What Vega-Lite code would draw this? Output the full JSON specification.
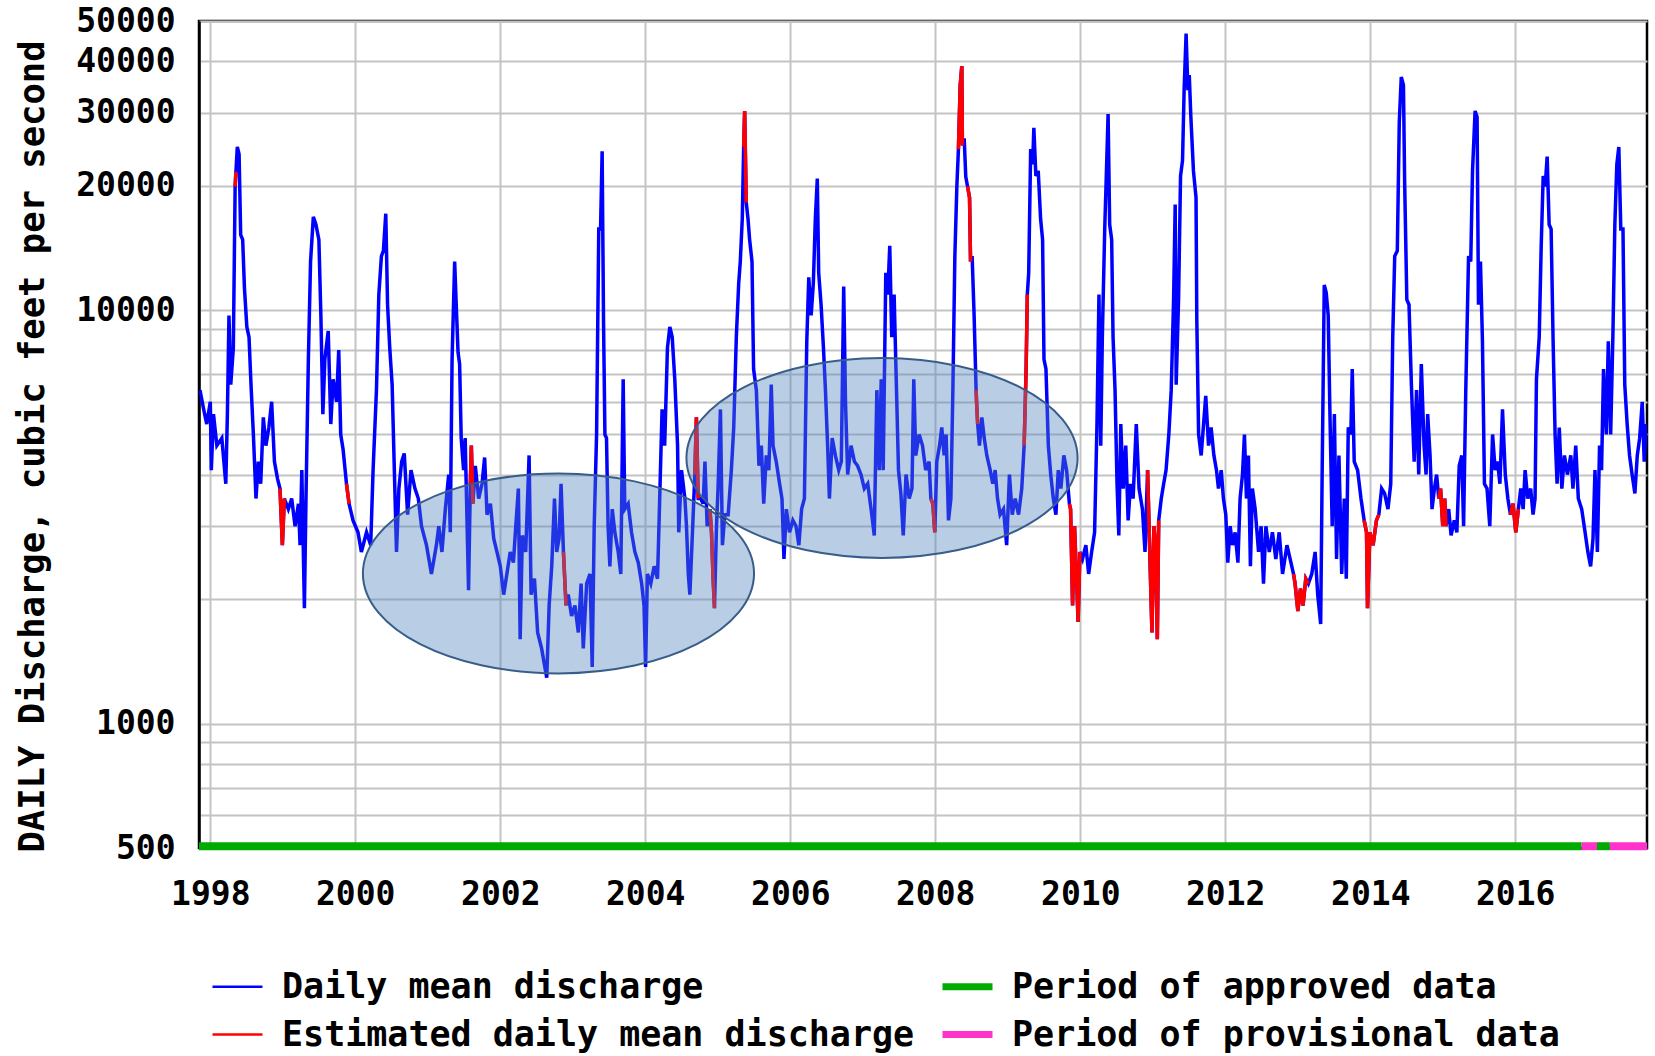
{
  "$schema": "https://vega.github.io/schema/vega-lite/v6.json",
  "width": 1448,
  "height": 827,
  "autosize": {"type": "none"},
  "padding": {"left": 199, "top": 21, "right": 8, "bottom": 208},
  "background": "white",
  "config": {
    "font": "DejaVu Sans Mono",
    "view": {"stroke": "black", "strokeWidth": 2.5},
    "axis": {"labelColor": "black", "domainColor": "black", "domainWidth": 2.5, "gridColor": "#c4c4c4", "gridWidth": 2, "ticks": false, "labelFontWeight": "bold", "labelFontSize": 33, "labelFont": "DejaVu Sans Mono"},
    "legend": {"padding": 0, "labelColor": "black", "labelFont": "DejaVu Sans Mono", "labelFontWeight": "bold", "labelFontSize": 35, "labelLimit": 1000}
  },
  "datasets": {
    "q": [
      {"d":"1997-11-10","v":6400},{"d":"1997-11-27","v":5800},{"d":"1997-12-14","v":5300},{"d":"1998-01-01","v":6000},{"d":"1998-01-06","v":4100},{"d":"1998-01-17","v":5600},{"d":"1998-02-03","v":4700},{"d":"1998-02-28","v":4900},{"d":"1998-03-20","v":3800},{"d":"1998-03-28","v":5600},{"d":"1998-04-05","v":9700},{"d":"1998-04-14","v":6600},{"d":"1998-04-27","v":8100},{"d":"1998-05-06","v":19900},{"d":"1998-05-17","v":24800},{"d":"1998-05-26","v":23800},{"d":"1998-06-03","v":15200},{"d":"1998-06-13","v":14800},{"d":"1998-06-22","v":11300},{"d":"1998-07-04","v":9100},{"d":"1998-07-15","v":8600},{"d":"1998-07-25","v":6600},{"d":"1998-08-06","v":5000},{"d":"1998-08-19","v":3500},{"d":"1998-08-31","v":4300},{"d":"1998-09-12","v":3800},{"d":"1998-09-25","v":5500},{"d":"1998-10-08","v":4700},{"d":"1998-10-23","v":5200},{"d":"1998-11-06","v":6000},{"d":"1998-11-20","v":4300},{"d":"1998-12-06","v":3900},{"d":"1998-12-18","v":3700},{"d":"1998-12-30","v":2700},
      {"d":"1999-01-09","v":3500},{"d":"1999-01-29","v":3300},{"d":"1999-02-15","v":3500},{"d":"1999-03-04","v":3000},{"d":"1999-03-21","v":3400},{"d":"1999-03-29","v":2700},{"d":"1999-04-07","v":4100},{"d":"1999-04-20","v":1900},{"d":"1999-04-28","v":3500},{"d":"1999-05-10","v":7600},{"d":"1999-05-21","v":13100},{"d":"1999-06-04","v":16800},{"d":"1999-06-17","v":16100},{"d":"1999-07-02","v":14800},{"d":"1999-07-12","v":9700},{"d":"1999-07-22","v":5600},{"d":"1999-08-01","v":7600},{"d":"1999-08-18","v":8900},{"d":"1999-08-31","v":5300},{"d":"1999-09-12","v":6800},{"d":"1999-09-29","v":6000},{"d":"1999-10-10","v":8000},{"d":"1999-10-20","v":5000},{"d":"1999-11-01","v":4600},{"d":"1999-11-18","v":3800},{"d":"1999-12-01","v":3400},{"d":"1999-12-21","v":3100},
      {"d":"2000-01-15","v":2900},{"d":"2000-02-01","v":2600},{"d":"2000-02-27","v":2900},{"d":"2000-03-19","v":2700},{"d":"2000-03-31","v":4100},{"d":"2000-04-17","v":6400},{"d":"2000-04-29","v":10900},{"d":"2000-05-12","v":13500},{"d":"2000-05-22","v":13900},{"d":"2000-06-03","v":17100},{"d":"2000-06-12","v":10300},{"d":"2000-06-23","v":8100},{"d":"2000-07-05","v":6600},{"d":"2000-07-15","v":4300},{"d":"2000-07-27","v":2600},{"d":"2000-08-08","v":3700},{"d":"2000-08-22","v":4300},{"d":"2000-09-04","v":4500},{"d":"2000-09-21","v":3200},{"d":"2000-10-08","v":4100},{"d":"2000-10-28","v":3700},{"d":"2000-11-14","v":3500},{"d":"2000-11-30","v":3000},{"d":"2000-12-25","v":2700},
      {"d":"2001-01-19","v":2300},{"d":"2001-02-13","v":2700},{"d":"2001-02-25","v":3000},{"d":"2001-03-13","v":2600},{"d":"2001-03-30","v":3300},{"d":"2001-04-16","v":4000},{"d":"2001-04-24","v":2900},{"d":"2001-05-03","v":7600},{"d":"2001-05-16","v":13100},{"d":"2001-05-24","v":10300},{"d":"2001-06-02","v":7900},{"d":"2001-06-10","v":7400},{"d":"2001-06-18","v":4900},{"d":"2001-06-30","v":4100},{"d":"2001-07-08","v":4900},{"d":"2001-07-25","v":2100},{"d":"2001-08-03","v":3800},{"d":"2001-08-08","v":4700},{"d":"2001-08-16","v":3400},{"d":"2001-08-28","v":4200},{"d":"2001-09-14","v":3500},{"d":"2001-10-01","v":3800},{"d":"2001-10-14","v":4400},{"d":"2001-10-26","v":3200},{"d":"2001-11-12","v":3400},{"d":"2001-11-29","v":2800},{"d":"2001-12-15","v":2600},
      {"d":"2002-01-01","v":2400},{"d":"2002-01-18","v":2050},{"d":"2002-02-03","v":2300},{"d":"2002-02-20","v":2600},{"d":"2002-03-08","v":2450},{"d":"2002-03-20","v":3000},{"d":"2002-04-02","v":3700},{"d":"2002-04-11","v":1600},{"d":"2002-04-22","v":2850},{"d":"2002-05-09","v":2600},{"d":"2002-05-26","v":4450},{"d":"2002-06-05","v":2050},{"d":"2002-06-22","v":2240},{"d":"2002-07-08","v":1660},{"d":"2002-07-28","v":1520},{"d":"2002-08-11","v":1390},{"d":"2002-08-23","v":1290},{"d":"2002-09-04","v":1930},{"d":"2002-09-17","v":2400},{"d":"2002-10-01","v":3500},{"d":"2002-10-12","v":2600},{"d":"2002-10-24","v":2800},{"d":"2002-11-03","v":3800},{"d":"2002-11-15","v":2600},{"d":"2002-11-28","v":1930},{"d":"2002-12-09","v":2050},{"d":"2002-12-26","v":1820},
      {"d":"2003-01-12","v":1930},{"d":"2003-01-29","v":1660},{"d":"2003-02-12","v":2180},{"d":"2003-02-23","v":1520},{"d":"2003-03-12","v":2180},{"d":"2003-03-29","v":2300},{"d":"2003-04-09","v":1370},{"d":"2003-04-19","v":3000},{"d":"2003-05-01","v":5000},{"d":"2003-05-12","v":15700},{"d":"2003-05-21","v":15700},{"d":"2003-05-29","v":24200},{"d":"2003-06-05","v":9400},{"d":"2003-06-12","v":5000},{"d":"2003-06-20","v":4900},{"d":"2003-06-28","v":3000},{"d":"2003-07-07","v":2400},{"d":"2003-07-19","v":3300},{"d":"2003-08-01","v":2900},{"d":"2003-08-18","v":2600},{"d":"2003-08-31","v":2300},{"d":"2003-09-12","v":6800},{"d":"2003-09-20","v":3300},{"d":"2003-10-07","v":3400},{"d":"2003-10-24","v":2900},{"d":"2003-11-10","v":2600},{"d":"2003-11-27","v":2450},{"d":"2003-12-14","v":2180},{"d":"2003-12-26","v":1930},
      {"d":"2004-01-03","v":1370},{"d":"2004-01-12","v":2300},{"d":"2004-01-29","v":2180},{"d":"2004-02-15","v":2400},{"d":"2004-03-03","v":2240},{"d":"2004-03-14","v":3500},{"d":"2004-03-26","v":5750},{"d":"2004-04-08","v":4700},{"d":"2004-04-22","v":8100},{"d":"2004-05-04","v":9100},{"d":"2004-05-16","v":8600},{"d":"2004-05-29","v":6800},{"d":"2004-06-12","v":4700},{"d":"2004-06-18","v":2900},{"d":"2004-07-02","v":4100},{"d":"2004-07-19","v":3500},{"d":"2004-07-27","v":3000},{"d":"2004-08-05","v":2300},{"d":"2004-08-13","v":2050},{"d":"2004-08-26","v":2900},{"d":"2004-09-07","v":4000},{"d":"2004-09-15","v":5500},{"d":"2004-09-24","v":3500},{"d":"2004-10-06","v":3500},{"d":"2004-10-19","v":3400},{"d":"2004-10-28","v":4300},{"d":"2004-11-08","v":3000},{"d":"2004-11-22","v":3300},{"d":"2004-11-30","v":2900},{"d":"2004-12-08","v":2240},{"d":"2004-12-15","v":1900},{"d":"2004-12-25","v":3000},
      {"d":"2005-01-02","v":3700},{"d":"2005-01-14","v":5750},{"d":"2005-01-24","v":2700},{"d":"2005-02-05","v":3200},{"d":"2005-02-22","v":3200},{"d":"2005-03-10","v":4100},{"d":"2005-03-22","v":5200},{"d":"2005-04-04","v":8600},{"d":"2005-04-16","v":11600},{"d":"2005-04-24","v":13100},{"d":"2005-05-04","v":16600},{"d":"2005-05-11","v":24800},{"d":"2005-05-16","v":30300},{"d":"2005-05-24","v":18200},{"d":"2005-06-02","v":16600},{"d":"2005-06-10","v":14800},{"d":"2005-06-22","v":13100},{"d":"2005-06-30","v":7200},{"d":"2005-07-14","v":6400},{"d":"2005-07-27","v":4200},{"d":"2005-08-08","v":4700},{"d":"2005-08-20","v":3400},{"d":"2005-09-02","v":4450},{"d":"2005-09-15","v":4100},{"d":"2005-09-27","v":6600},{"d":"2005-10-06","v":4700},{"d":"2005-10-22","v":4300},{"d":"2005-11-08","v":3800},{"d":"2005-11-20","v":3500},{"d":"2005-11-30","v":2500},{"d":"2005-12-12","v":3300},{"d":"2005-12-28","v":2900},
      {"d":"2006-01-14","v":3100},{"d":"2006-01-30","v":3000},{"d":"2006-02-13","v":2700},{"d":"2006-02-27","v":3300},{"d":"2006-03-13","v":3500},{"d":"2006-03-25","v":8400},{"d":"2006-04-04","v":12000},{"d":"2006-04-16","v":9700},{"d":"2006-04-27","v":11600},{"d":"2006-05-07","v":16600},{"d":"2006-05-17","v":20800},{"d":"2006-05-24","v":12300},{"d":"2006-06-05","v":10300},{"d":"2006-06-17","v":8100},{"d":"2006-06-27","v":6400},{"d":"2006-07-08","v":4700},{"d":"2006-07-17","v":3500},{"d":"2006-07-31","v":4900},{"d":"2006-08-16","v":4450},{"d":"2006-09-02","v":4100},{"d":"2006-09-15","v":4300},{"d":"2006-09-27","v":11400},{"d":"2006-10-06","v":6000},{"d":"2006-10-17","v":4000},{"d":"2006-11-03","v":4700},{"d":"2006-11-20","v":4300},{"d":"2006-12-06","v":4200},{"d":"2006-12-23","v":4000},
      {"d":"2007-01-09","v":3700},{"d":"2007-01-26","v":3800},{"d":"2007-02-12","v":3300},{"d":"2007-02-28","v":2850},{"d":"2007-03-13","v":6400},{"d":"2007-03-25","v":4100},{"d":"2007-04-04","v":6800},{"d":"2007-04-14","v":4100},{"d":"2007-04-27","v":12300},{"d":"2007-05-07","v":10900},{"d":"2007-05-17","v":14300},{"d":"2007-05-27","v":8600},{"d":"2007-06-08","v":10900},{"d":"2007-06-20","v":6400},{"d":"2007-06-30","v":4100},{"d":"2007-07-12","v":3600},{"d":"2007-07-24","v":2850},{"d":"2007-08-07","v":4000},{"d":"2007-08-23","v":3500},{"d":"2007-09-06","v":3700},{"d":"2007-09-15","v":6800},{"d":"2007-09-25","v":4450},{"d":"2007-10-12","v":5000},{"d":"2007-10-29","v":4700},{"d":"2007-11-14","v":4100},{"d":"2007-12-01","v":4300},{"d":"2007-12-10","v":3500},{"d":"2007-12-20","v":3400},{"d":"2007-12-30","v":2900},
      {"d":"2008-01-09","v":4300},{"d":"2008-01-23","v":4700},{"d":"2008-02-03","v":5200},{"d":"2008-02-15","v":4450},{"d":"2008-02-25","v":5000},{"d":"2008-03-08","v":3100},{"d":"2008-03-20","v":3500},{"d":"2008-03-30","v":6400},{"d":"2008-04-09","v":13500},{"d":"2008-04-19","v":19900},{"d":"2008-04-27","v":24500},{"d":"2008-05-06","v":35000},{"d":"2008-05-14","v":38900},{"d":"2008-05-17","v":25000},{"d":"2008-05-26","v":26000},{"d":"2008-06-03","v":21000},{"d":"2008-06-12","v":19900},{"d":"2008-06-22","v":18700},{"d":"2008-06-27","v":13100},{"d":"2008-07-05","v":13500},{"d":"2008-07-15","v":9700},{"d":"2008-07-25","v":6400},{"d":"2008-07-28","v":5900},{"d":"2008-08-02","v":5300},{"d":"2008-08-11","v":4700},{"d":"2008-08-23","v":5500},{"d":"2008-09-04","v":4900},{"d":"2008-09-17","v":4450},{"d":"2008-10-04","v":4100},{"d":"2008-10-17","v":3800},{"d":"2008-10-29","v":4100},{"d":"2008-11-10","v":3500},{"d":"2008-11-23","v":3200},{"d":"2008-12-10","v":3300},{"d":"2008-12-26","v":2700},
      {"d":"2009-01-09","v":4000},{"d":"2009-01-23","v":3200},{"d":"2009-02-07","v":3500},{"d":"2009-02-24","v":3200},{"d":"2009-03-12","v":3700},{"d":"2009-03-24","v":4700},{"d":"2009-04-03","v":7200},{"d":"2009-04-09","v":10900},{"d":"2009-04-16","v":12300},{"d":"2009-04-26","v":24500},{"d":"2009-05-06","v":22500},{"d":"2009-05-12","v":27600},{"d":"2009-05-22","v":21100},{"d":"2009-06-03","v":21700},{"d":"2009-06-15","v":16600},{"d":"2009-06-25","v":14800},{"d":"2009-07-02","v":7600},{"d":"2009-07-12","v":7200},{"d":"2009-07-24","v":4700},{"d":"2009-08-05","v":4000},{"d":"2009-08-18","v":3500},{"d":"2009-08-31","v":3200},{"d":"2009-09-12","v":4100},{"d":"2009-09-25","v":3700},{"d":"2009-10-10","v":4450},{"d":"2009-10-24","v":4100},{"d":"2009-11-07","v":3400},{"d":"2009-11-13","v":3300},{"d":"2009-11-23","v":1930},{"d":"2009-12-03","v":3000},{"d":"2009-12-13","v":2240},{"d":"2009-12-21","v":1760},{"d":"2009-12-30","v":2600},
      {"d":"2010-01-12","v":2500},{"d":"2010-01-29","v":2700},{"d":"2010-02-12","v":2300},{"d":"2010-02-27","v":2600},{"d":"2010-03-14","v":2900},{"d":"2010-03-26","v":5300},{"d":"2010-04-05","v":10900},{"d":"2010-04-14","v":4700},{"d":"2010-04-22","v":8600},{"d":"2010-05-04","v":15700},{"d":"2010-05-12","v":21100},{"d":"2010-05-21","v":29800},{"d":"2010-05-29","v":16100},{"d":"2010-06-08","v":14800},{"d":"2010-06-15","v":8600},{"d":"2010-06-25","v":6400},{"d":"2010-07-05","v":3800},{"d":"2010-07-14","v":2850},{"d":"2010-07-24","v":5300},{"d":"2010-08-05","v":3700},{"d":"2010-08-18","v":4700},{"d":"2010-08-30","v":3100},{"d":"2010-09-11","v":3800},{"d":"2010-09-24","v":3500},{"d":"2010-10-10","v":5300},{"d":"2010-10-24","v":3700},{"d":"2010-11-10","v":3300},{"d":"2010-11-23","v":2600},{"d":"2010-12-06","v":4100},{"d":"2010-12-16","v":2700},{"d":"2010-12-28","v":1660},
      {"d":"2011-01-07","v":3000},{"d":"2011-01-15","v":2700},{"d":"2011-01-24","v":1600},{"d":"2011-01-31","v":3100},{"d":"2011-02-13","v":3500},{"d":"2011-02-25","v":3800},{"d":"2011-03-09","v":4100},{"d":"2011-03-23","v":5000},{"d":"2011-04-04","v":6400},{"d":"2011-04-16","v":10600},{"d":"2011-04-24","v":18000},{"d":"2011-04-29","v":6600},{"d":"2011-05-11","v":10600},{"d":"2011-05-21","v":21100},{"d":"2011-05-31","v":23000},{"d":"2011-06-08","v":34000},{"d":"2011-06-18","v":46600},{"d":"2011-06-27","v":34000},{"d":"2011-07-04","v":37000},{"d":"2011-07-12","v":29300},{"d":"2011-07-25","v":21700},{"d":"2011-08-07","v":18700},{"d":"2011-08-11","v":9400},{"d":"2011-08-20","v":5000},{"d":"2011-09-02","v":4450},{"d":"2011-09-14","v":5300},{"d":"2011-09-25","v":6200},{"d":"2011-10-09","v":4700},{"d":"2011-10-22","v":5200},{"d":"2011-11-05","v":4450},{"d":"2011-11-18","v":4100},{"d":"2011-11-28","v":3700},{"d":"2011-12-12","v":4100},{"d":"2011-12-23","v":3500},
      {"d":"2012-01-04","v":3200},{"d":"2012-01-14","v":2450},{"d":"2012-01-26","v":3000},{"d":"2012-02-07","v":2700},{"d":"2012-02-20","v":2900},{"d":"2012-03-05","v":2450},{"d":"2012-03-16","v":3500},{"d":"2012-03-28","v":4000},{"d":"2012-04-07","v":5000},{"d":"2012-04-17","v":3500},{"d":"2012-04-27","v":4450},{"d":"2012-05-07","v":2400},{"d":"2012-05-17","v":3700},{"d":"2012-05-31","v":3300},{"d":"2012-06-17","v":2600},{"d":"2012-06-30","v":3000},{"d":"2012-07-12","v":2180},{"d":"2012-07-24","v":3000},{"d":"2012-08-10","v":2600},{"d":"2012-08-26","v":2900},{"d":"2012-09-12","v":2500},{"d":"2012-09-29","v":2900},{"d":"2012-10-16","v":2300},{"d":"2012-11-07","v":2700},{"d":"2012-11-23","v":2500},{"d":"2012-12-10","v":2300},{"d":"2012-12-18","v":2180},
      {"d":"2013-01-01","v":1870},{"d":"2013-01-14","v":2120},{"d":"2013-01-27","v":1930},{"d":"2013-02-10","v":2240},{"d":"2013-02-23","v":2180},{"d":"2013-03-12","v":2300},{"d":"2013-03-29","v":2600},{"d":"2013-04-11","v":2050},{"d":"2013-04-26","v":1740},{"d":"2013-05-04","v":4300},{"d":"2013-05-14","v":11500},{"d":"2013-05-24","v":11000},{"d":"2013-06-03","v":9700},{"d":"2013-06-12","v":5500},{"d":"2013-06-23","v":3000},{"d":"2013-07-04","v":5600},{"d":"2013-07-15","v":2500},{"d":"2013-07-27","v":4450},{"d":"2013-08-10","v":2300},{"d":"2013-08-23","v":3500},{"d":"2013-09-02","v":2240},{"d":"2013-09-12","v":5200},{"d":"2013-09-25","v":5000},{"d":"2013-10-02","v":7200},{"d":"2013-10-12","v":4300},{"d":"2013-10-29","v":4100},{"d":"2013-11-15","v":3500},{"d":"2013-12-01","v":3100},{"d":"2013-12-13","v":2900},{"d":"2013-12-18","v":1900},{"d":"2013-12-30","v":2900},
      {"d":"2014-01-15","v":2700},{"d":"2014-02-01","v":3100},{"d":"2014-02-13","v":3200},{"d":"2014-02-27","v":3700},{"d":"2014-03-14","v":3600},{"d":"2014-03-31","v":3300},{"d":"2014-04-14","v":3800},{"d":"2014-04-24","v":8600},{"d":"2014-05-04","v":13500},{"d":"2014-05-17","v":13900},{"d":"2014-05-27","v":28500},{"d":"2014-06-06","v":36600},{"d":"2014-06-17","v":35000},{"d":"2014-06-23","v":20400},{"d":"2014-07-04","v":10600},{"d":"2014-07-15","v":10300},{"d":"2014-07-27","v":6600},{"d":"2014-08-10","v":4300},{"d":"2014-08-22","v":6400},{"d":"2014-09-02","v":4000},{"d":"2014-09-15","v":7400},{"d":"2014-09-29","v":4700},{"d":"2014-10-09","v":4000},{"d":"2014-10-17","v":5600},{"d":"2014-10-29","v":4450},{"d":"2014-11-08","v":3300},{"d":"2014-11-20","v":3700},{"d":"2014-12-01","v":4000},{"d":"2014-12-12","v":3500},{"d":"2014-12-21","v":3700},
      {"d":"2015-01-01","v":3000},{"d":"2015-01-11","v":3500},{"d":"2015-01-17","v":3000},{"d":"2015-01-31","v":3300},{"d":"2015-02-12","v":2850},{"d":"2015-02-28","v":3100},{"d":"2015-03-13","v":2900},{"d":"2015-03-25","v":4200},{"d":"2015-04-07","v":4450},{"d":"2015-04-16","v":3000},{"d":"2015-04-27","v":6400},{"d":"2015-05-11","v":13500},{"d":"2015-05-22","v":13100},{"d":"2015-05-31","v":21700},{"d":"2015-06-13","v":30300},{"d":"2015-06-23","v":29300},{"d":"2015-06-30","v":10300},{"d":"2015-07-10","v":13100},{"d":"2015-07-20","v":8400},{"d":"2015-07-30","v":3800},{"d":"2015-08-12","v":3700},{"d":"2015-08-26","v":3000},{"d":"2015-09-09","v":5000},{"d":"2015-09-22","v":4100},{"d":"2015-10-04","v":4300},{"d":"2015-10-16","v":3800},{"d":"2015-10-29","v":5750},{"d":"2015-11-12","v":4000},{"d":"2015-11-25","v":3500},{"d":"2015-12-08","v":3200},{"d":"2015-12-21","v":3400},
      {"d":"2016-01-04","v":2900},{"d":"2016-01-17","v":3300},{"d":"2016-01-29","v":3700},{"d":"2016-02-10","v":3300},{"d":"2016-02-20","v":4100},{"d":"2016-03-04","v":3500},{"d":"2016-03-19","v":3700},{"d":"2016-03-31","v":3200},{"d":"2016-04-10","v":3500},{"d":"2016-04-17","v":6800},{"d":"2016-05-01","v":8600},{"d":"2016-05-11","v":14300},{"d":"2016-05-21","v":21100},{"d":"2016-05-31","v":19900},{"d":"2016-06-10","v":23500},{"d":"2016-06-20","v":16100},{"d":"2016-06-30","v":15700},{"d":"2016-07-10","v":8400},{"d":"2016-07-20","v":5000},{"d":"2016-07-30","v":3800},{"d":"2016-08-10","v":5200},{"d":"2016-08-23","v":3700},{"d":"2016-09-05","v":4450},{"d":"2016-09-20","v":4000},{"d":"2016-10-07","v":4450},{"d":"2016-10-18","v":3700},{"d":"2016-11-01","v":4700},{"d":"2016-11-14","v":3500},{"d":"2016-12-01","v":3300},{"d":"2016-12-18","v":2900},
      {"d":"2017-01-01","v":2600},{"d":"2017-01-15","v":2400},{"d":"2017-01-27","v":2800},{"d":"2017-02-06","v":4100},{"d":"2017-02-18","v":2600},{"d":"2017-03-01","v":4700},{"d":"2017-03-11","v":4100},{"d":"2017-03-21","v":7200},{"d":"2017-04-04","v":5000},{"d":"2017-04-14","v":8400},{"d":"2017-04-26","v":5000},{"d":"2017-05-07","v":8600},{"d":"2017-05-17","v":16100},{"d":"2017-05-27","v":22500},{"d":"2017-06-06","v":24800},{"d":"2017-06-16","v":15700},{"d":"2017-06-27","v":15700},{"d":"2017-07-06","v":6600},{"d":"2017-07-18","v":5300},{"d":"2017-07-30","v":4450},{"d":"2017-08-12","v":4000},{"d":"2017-08-26","v":3600},{"d":"2017-09-07","v":4450},{"d":"2017-09-19","v":4900},{"d":"2017-10-02","v":6000},{"d":"2017-10-12","v":4300},{"d":"2017-10-22","v":5300}
    ],
    "est": [
      {"d":"1998-05-06","v":19900,"g":1},{"d":"1998-05-10","v":21600,"g":1},
      {"d":"1998-12-18","v":3700,"g":2},{"d":"1998-12-30","v":2700,"g":2},{"d":"1999-01-09","v":3500,"g":2},
      {"d":"1999-11-18","v":3800,"g":3},{"d":"1999-12-01","v":3400,"g":3},
      {"d":"2001-08-03","v":3800,"g":4},{"d":"2001-08-08","v":4700,"g":4},{"d":"2001-08-16","v":3400,"g":4},
      {"d":"2002-11-15","v":2600,"g":5},{"d":"2002-11-28","v":1930,"g":5},
      {"d":"2004-09-07","v":4000,"g":6},{"d":"2004-09-15","v":5500,"g":6},{"d":"2004-09-24","v":3500,"g":6},
      {"d":"2004-11-22","v":3300,"g":7},{"d":"2004-11-30","v":2900,"g":7},{"d":"2004-12-08","v":2240,"g":7},{"d":"2004-12-15","v":1900,"g":7},
      {"d":"2005-05-11","v":24800,"g":8},{"d":"2005-05-16","v":30300,"g":8},{"d":"2005-05-24","v":18200,"g":8},
      {"d":"2007-12-10","v":3500,"g":9},{"d":"2007-12-20","v":3400,"g":9},{"d":"2007-12-30","v":2900,"g":9},
      {"d":"2008-04-27","v":24500,"g":10},{"d":"2008-05-06","v":35000,"g":10},{"d":"2008-05-14","v":38900,"g":10},{"d":"2008-05-17","v":25000,"g":10},
      {"d":"2008-06-12","v":19900,"g":11},{"d":"2008-06-22","v":18700,"g":11},{"d":"2008-06-27","v":13100,"g":11},
      {"d":"2008-07-25","v":6400,"g":12},{"d":"2008-07-28","v":5900,"g":12},{"d":"2008-08-02","v":5300,"g":12},
      {"d":"2009-03-24","v":4700,"g":13},{"d":"2009-04-03","v":7200,"g":13},{"d":"2009-04-09","v":10900,"g":13},
      {"d":"2009-11-07","v":3400,"g":14},{"d":"2009-11-13","v":3300,"g":14},{"d":"2009-11-23","v":1930,"g":14},{"d":"2009-12-03","v":3000,"g":14},{"d":"2009-12-13","v":2240,"g":14},{"d":"2009-12-21","v":1760,"g":14},{"d":"2009-12-30","v":2600,"g":14},
      {"d":"2010-12-06","v":4100,"g":15},{"d":"2010-12-16","v":2700,"g":15},{"d":"2010-12-28","v":1660,"g":15},{"d":"2011-01-07","v":3000,"g":15},{"d":"2011-01-15","v":2700,"g":15},{"d":"2011-01-24","v":1600,"g":15},{"d":"2011-01-31","v":3100,"g":15},
      {"d":"2012-12-10","v":2300,"g":16},{"d":"2012-12-18","v":2180,"g":16},{"d":"2013-01-01","v":1870,"g":16},{"d":"2013-01-14","v":2120,"g":16},{"d":"2013-01-27","v":1930,"g":16},{"d":"2013-02-10","v":2240,"g":16},{"d":"2013-02-23","v":2180,"g":16},
      {"d":"2013-12-01","v":3100,"g":17},{"d":"2013-12-13","v":2900,"g":17},{"d":"2013-12-18","v":1900,"g":17},{"d":"2013-12-30","v":2900,"g":17},{"d":"2014-01-15","v":2700,"g":17},{"d":"2014-02-01","v":3100,"g":17},{"d":"2014-02-13","v":3200,"g":17},
      {"d":"2014-12-12","v":3500,"g":18},{"d":"2014-12-21","v":3700,"g":18},{"d":"2015-01-01","v":3000,"g":18},{"d":"2015-01-11","v":3500,"g":18},{"d":"2015-01-17","v":3000,"g":18},
      {"d":"2015-12-08","v":3200,"g":19},{"d":"2015-12-21","v":3400,"g":19},{"d":"2016-01-04","v":2900,"g":19},{"d":"2016-01-17","v":3300,"g":19}
    ],
    "period": [
      {"s":"1997-11-05","e":"2016-12-01","p":"Period of approved data"},
      {"s":"2016-12-01","e":"2017-02-16","p":"Period of provisional data"},
      {"s":"2017-02-16","e":"2017-04-22","p":"Period of approved data"},
      {"s":"2017-04-22","e":"2017-10-26","p":"Period of provisional data"}
    ],
    "ell": [
      {"d":"2002-10-21","v":2306},
      {"d":"2007-04-08","v":4387}
    ]
  },
  "layer": [
    {
      "data": {"name": "q"},
      "mark": {"type": "line", "strokeWidth": 3.5, "clip": true},
      "encoding": {
        "x": {"field": "d", "type": "temporal",
          "scale": {"domain": [{"year": 1997, "month": 11, "date": 5}, {"year": 2017, "month": 10, "date": 26}]},
          "axis": {"values": [{"year": 1998}, {"year": 2000}, {"year": 2002}, {"year": 2004}, {"year": 2006}, {"year": 2008}, {"year": 2010}, {"year": 2012}, {"year": 2014}, {"year": 2016}], "format": "%Y", "title": null, "grid": true, "labelPadding": 30}},
        "y": {"field": "v", "type": "quantitative",
          "scale": {"type": "log", "domain": [500, 50000], "nice": false},
          "axis": {"values": [500, 600, 700, 800, 900, 1000, 2000, 3000, 4000, 5000, 6000, 7000, 8000, 9000, 10000, 20000, 30000, 40000, 50000],
            "format": "d",
            "labelExpr": "(datum.value == 500 || datum.value == 1000 || datum.value >= 10000) ? datum.label : ''",
            "grid": true, "labelPadding": 24,
            "title": "DAILY Discharge, cubic feet per second", "titleFontSize": 35.5, "titleFontWeight": "bold", "titleColor": "black",
            "titleAngle": -90, "titleX": -167, "titleY": 425, "titleAlign": "center", "titleBaseline": "middle"}},
        "color": {"datum": "Daily mean discharge", "type": "nominal",
          "scale": {"domain": ["Daily mean discharge", "Period of approved data", "Estimated daily mean discharge", "Period of provisional data"], "range": ["#0000ff", "#00aa00", "#ff0000", "#ff33cc"]},
          "legend": {"orient": "none", "legendX": 21, "legendY": 948, "title": null, "columns": 2, "direction": "horizontal", "columnPadding": 13, "symbolType": "stroke", "symbolSize": 2500, "symbolStrokeWidth": 2.5, "labelOffset": 27, "rowPadding": 12,
            "values": ["Daily mean discharge", "Period of approved data", "Estimated daily mean discharge", "Period of provisional data"],
            "encode": {"symbols": {"update": {"strokeWidth": {"signal": "datum.index == 1 || datum.index == 3 ? 7 : 2.5"}}}}}}
      }
    },
    {
      "data": {"name": "est"},
      "mark": {"type": "line", "strokeWidth": 3.5, "clip": true},
      "encoding": {
        "x": {"field": "d", "type": "temporal"},
        "y": {"field": "v", "type": "quantitative"},
        "detail": {"field": "g", "type": "nominal"},
        "color": {"datum": "Estimated daily mean discharge", "type": "nominal", "title": null}
      }
    },
    {
      "data": {"name": "period"},
      "mark": {"type": "rule", "strokeWidth": 8},
      "encoding": {
        "x": {"field": "s", "type": "temporal"},
        "x2": {"field": "e"},
        "y": {"datum": 505, "type": "quantitative"},
        "color": {"field": "p", "type": "nominal", "title": null}
      }
    },
    {
      "data": {"name": "ell"},
      "mark": {"type": "point", "shape": "M -1 0 A 1 0.511 0 1 1 1 0 A 1 0.511 0 1 1 -1 0 Z", "size": 153000, "filled": true, "fill": "#4f81bd", "fillOpacity": 0.4, "stroke": "#385d8a", "strokeWidth": 2, "strokeOpacity": 1, "opacity": 1},
      "encoding": {
        "x": {"field": "d", "type": "temporal"},
        "y": {"field": "v", "type": "quantitative"}
      }
    }
  ]
}
